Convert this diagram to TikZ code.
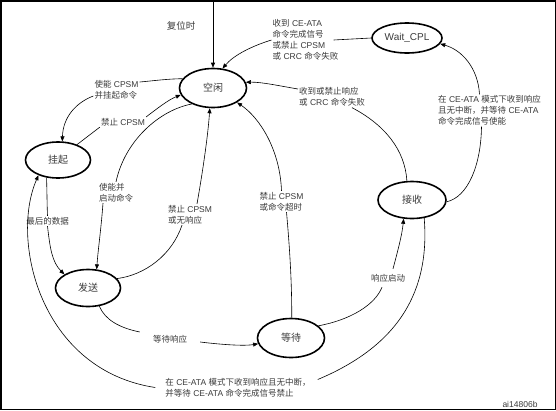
\documentclass[tikz,border=0pt]{standalone}
\usepackage{fontspec}
\setmainfont{Liberation Sans}
\newfontfamily\zh{Noto Sans CJK SC}
\usetikzlibrary{arrows.meta,shapes.geometric}
\definecolor{labgray}{HTML}{3A3A3A}
\tikzset{
  stnode/.style={ellipse, draw, line width=1.6pt, inner sep=0pt, font=\fontsize{10}{12}\selectfont, text=labgray},
  lab/.style={inner sep=1pt, align=left, font=\fontsize{8.5}{11}\selectfont, text=labgray},
  conn/.style={line width=0.6pt},
  arr/.style={conn, -{Triangle[length=5pt,width=4pt]}},
}
\begin{document}
\begin{tikzpicture}[x=1pt,y=-1pt]
\useasboundingbox (0,0) rectangle (556,410);
\draw[line width=1.5pt] (0.75,0.75) rectangle (555.25,409.25);

% states
\node[stnode, minimum width=67pt, minimum height=39pt] (idle) at (213,88) {\zh 空闲};
\node[stnode, minimum width=70pt, minimum height=30pt] (wait) at (407,38) {Wait\_CPL};
\node[stnode, minimum width=65pt, minimum height=36pt] (susp) at (58,160) {\zh 挂起};
\node[stnode, minimum width=65pt, minimum height=37pt] (send) at (88,288) {\zh 发送};
\node[stnode, minimum width=67pt, minimum height=39pt] (waitr) at (291,338) {\zh 等待};
\node[stnode, minimum width=68pt, minimum height=37pt] (recv) at (412,200) {\zh 接收};

% labels
\node[lab] (lreset) at (181,26) {\fontsize{9.5}{11}\selectfont\zh 复位时};
\node[lab] (lwc) at (305.5,40) {{\zh 收到} CE-ATA\\{\zh 命令完成信号}\\{\zh 或禁止} CPSM\\{\zh 或} CRC {\zh 命令失败}};
\node[lab] (lrf) at (332,97) {{\zh 收到或禁止响应}\\{\zh 或} CRC {\zh 命令失败}};
\node[lab] (lce1) at (489.5,110.5) {{\zh 在} CE-ATA {\zh 模式下收到响应}\\{\zh 且无中断，并等待} CE-ATA\\{\zh 命令完成信号使能}};
\node[lab] (len1) at (116.5,90) {{\zh 使能} CPSM\\{\zh 并挂起命令}};
\node[lab] (ldis1) at (123,122) {{\zh 禁止} CPSM};
\node[lab] (len2) at (116,192.5) {{\zh 使能并}\\{\zh 启动命令}};
\node[lab] (ldis2) at (190,214.5) {{\zh 禁止} CPSM\\{\zh 或无响应}};
\node[lab] (ldis3) at (281.5,201.5) {{\zh 禁止} CPSM\\{\zh 或命令超时}};
\node[lab] (lwr) at (170,339) {\zh 等待响应};
\node[lab] (lrs) at (388,278) {\zh 响应启动};
\node[lab] (lce2) at (238,387.5) {{\zh 在} CE-ATA {\zh 模式下收到响应且无中断，}\\{\zh 并等待} CE-ATA {\zh 命令完成信号禁止}};
\node[lab] (llast) at (47.5,221) {\zh 最后的数据};
\node[lab] (figid) at (520,404) {ai14806b};

% reset
\coordinate (rtop) at (213,2);
\draw[arr] (rtop) -- (idle.north);

% Wait_CPL -> idle
\draw[conn] (wait.west) -- ([xshift=-6pt]lwc.east);
\draw[arr] (lwc.west) .. controls (252,46) and (234,55) .. (idle.64);

% recv -> idle
\draw[conn] (recv.105) .. controls (405,150) and (385,125) .. ([xshift=20pt]lrf.south);
\draw[arr] ([yshift=8pt]lrf.west) .. controls (280,86) and (262,82) .. (idle.10);

% recv -> Wait_CPL
\draw[conn] (recv.-3) .. controls (468,197) and (481,165) .. ([xshift=-8pt]lce1.south);
\draw[arr] ([xshift=-10pt]lce1.north) .. controls (478,68) and (462,50) .. (wait.-10);

% idle -> suspend
\draw[conn] (idle.163) .. controls (165,79) and (152,81) .. ([yshift=8pt]len1.east);
\draw[arr] ([yshift=-6pt]len1.west) .. controls (75,103) and (63,118) .. (susp.77);

% suspend -> idle
\draw[conn] (susp.39) -- (ldis1.south west);
\draw[arr] (ldis1.north east) .. controls (158,108) and (168,100) .. (idle.192);

% idle -> send
\draw[conn] (idle.217) .. controls (160,110) and (125,140) .. (len2.north);
\draw[arr] ([xshift=-13pt]len2.south) .. controls (101,230) and (98,250) .. (send.65);

% send -> idle
\draw[conn] (send.18) .. controls (145,275) and (172,255) .. ([xshift=-8pt]ldis2.south);
\draw[arr] ([xshift=7pt]ldis2.north) .. controls (203,170) and (208,135) .. (idle.261);

% wait -> idle
\draw[conn] (waitr.88) .. controls (292,280) and (289,240) .. ([xshift=5pt]ldis3.south);
\draw[arr] (ldis3.north) .. controls (280,150) and (260,118) .. (idle.-31);

% send -> wait
\draw[conn] (send.-58) .. controls (105,320) and (120,328) .. ([xshift=-12pt,yshift=7pt]lwr.west);
\draw[arr] ([xshift=12pt,yshift=-3pt]lwr.east) .. controls (225,345) and (245,346) .. (waitr.190);

% wait -> recv
\draw[conn] (waitr.24) .. controls (350,320) and (375,305) .. ([xshift=-6pt,yshift=-4pt]lrs.south);
\draw[arr] ([xshift=5pt,yshift=4pt]lrs.north) .. controls (398,250) and (402,235) .. (recv.246);

% recv -> suspend (big loop)
\draw[conn] (recv.-56) .. controls (430,290) and (400,345) .. ([xshift=6pt,yshift=8pt]lce2.east);
\draw[arr] ([xshift=-9pt]lce2.west) .. controls (40,370) and (10,240) .. (susp.218);

% suspend -> send
\draw[conn] (susp.237) .. controls (47,190) and (47,205) .. (llast.north);
\draw[arr] (llast.south) .. controls (50,248) and (52,262) .. (send.150);
\end{tikzpicture}
\end{document}
